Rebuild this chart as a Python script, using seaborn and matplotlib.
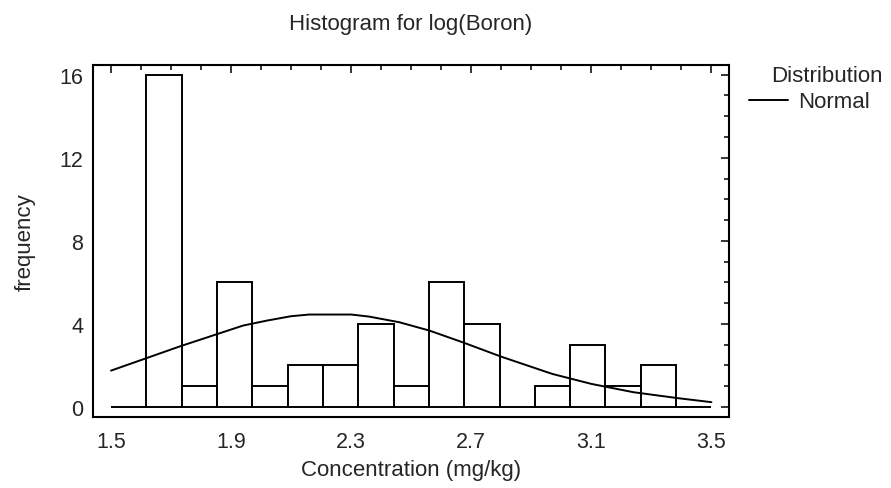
import numpy as np
import pandas as pd
import matplotlib
matplotlib.use('Agg')
import matplotlib.pyplot as plt
import seaborn as sns
from matplotlib.ticker import MultipleLocator
from matplotlib.lines import Line2D

# histogram classes (17 classes from 1.5 to 3.5)
bin_edges = list(np.linspace(1.5, 3.5, 18))
counts = [0, 16, 1, 6, 1, 2, 2, 4, 1, 6, 4, 0, 1, 3, 1, 2, 0]

# fitted normal curve
curve_x = [1.50, 1.73, 1.94, 2.02, 2.10, 2.16, 2.30, 2.36, 2.46, 2.56,
           2.67, 2.80, 2.97, 3.10, 3.24, 3.39, 3.50]
curve_y = [1.75, 2.92, 3.92, 4.16, 4.37, 4.45, 4.45, 4.35, 4.08, 3.68,
           3.12, 2.42, 1.59, 1.11, 0.71, 0.42, 0.23]

sns.set_style('white')
plt.rcParams['font.family'] = ['Liberation Sans', 'DejaVu Sans']

centers = [(a + b) / 2 for a, b in zip(bin_edges[:-1], bin_edges[1:])]
df = pd.DataFrame({'x': centers, 'n': counts})
curve = pd.DataFrame({'x': curve_x, 'y': curve_y})

fig = plt.figure(figsize=(8.91, 4.89), dpi=100)
ax = fig.add_axes([0.1044, 0.1458, 0.7136, 0.7198])

sns.histplot(data=df, x='x', weights='n', bins=bin_edges, stat='count',
             color='white', edgecolor='black', linewidth=1.4, alpha=1, ax=ax)
sns.lineplot(data=curve, x='x', y='y', color='black', linewidth=1.4, ax=ax)

ax.set_xlim(1.44, 3.558)
ax.set_ylim(-0.47, 16.48)
ax.xaxis.set_minor_locator(MultipleLocator(0.1))
ax.yaxis.set_major_locator(MultipleLocator(4))
ax.yaxis.set_minor_locator(MultipleLocator(1))
ax.set_xticks([1.5, 1.9, 2.3, 2.7, 3.1, 3.5])
ax.set_xticklabels(['1.5', '1.9', '2.3', '2.7', '3.1', '3.5'])
ax.tick_params(which='both', direction='in', top=True, right=True,
               width=1.3, labelsize=15.5)
ax.tick_params(axis='x', which='major', length=6, pad=10)
ax.tick_params(axis='y', which='major', length=6, pad=7)
ax.tick_params(which='minor', length=3.5)
for s in ax.spines.values():
    s.set_linewidth(1.5)
    s.set_color('black')

ax.set_xlabel('Concentration (mg/kg)', fontsize=16, labelpad=5)
ax.set_ylabel('frequency', fontsize=16, labelpad=17)
ax.set_title('Histogram for log(Boron)', fontsize=16, pad=26)

# legend: title text + one entry
fig.text(0.866, 1 - 77 / 489, 'Distribution', fontsize=16,
         ha='left', va='center')
handle = Line2D([], [], color='black', linewidth=1.4)
fig.legend([handle], ['Normal'], loc='center left',
           bbox_to_anchor=(749 / 891, 1 - 103 / 489), frameon=False,
           fontsize=16, handlelength=1.75, handletextpad=0.45,
           borderaxespad=0, borderpad=0)

fig.savefig('out.png', dpi=100)
